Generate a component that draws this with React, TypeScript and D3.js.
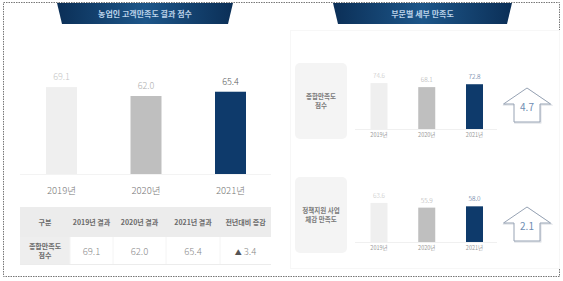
import React from "react";
import * as d3 from "d3";

const years = ["2019년", "2020년", "2021년"];
const overallValues = [69.1, 62.0, 65.4];
const overallChange = 3.4;
const tableHeaders = ["구분", "2019년 결과", "2020년 결과", "2021년 결과", "전년대비 증감"];
const rowLabel = ["종합만족도", "점수"];
const leftTitle = "농업인 고객만족도 결과 점수";
const rightTitle = "부문별 세부 만족도";
const subLabels = [["종합만족도", "점수"], ["정책지원 사업", "체감 만족도"]];
const subValues = [
  [74.6, 68.1, 72.8],
  [63.6, 55.9, 58.0],
];
const subChanges = [4.7, 2.1];

const barFills = ["#efefef", "#bfbfbf", "#0e3a6b"];
const labelFills = ["#c4c4c4", "#adadad", "#5a5a5a"];
const subLabelFills = ["#c4c4c4", "#adadad", "#4a6690"];
const FONT = "'Noto Sans CJK KR', 'Noto Sans', sans-serif";

function Banner({ x0, x1, title }: { x0: number; x1: number; title: string }) {
  const id = `g${Math.round(x0)}`;
  return (
    <g>
      <defs>
        <linearGradient id={id} x1="0" x2="1" y1="0" y2="0">
          <stop offset="0" stopColor="#0b2f57" />
          <stop offset="0.5" stopColor="#1d5689" />
          <stop offset="1" stopColor="#0b2f57" />
        </linearGradient>
      </defs>
      <path d={`M${x0},3 L${x1},3 L${x1 - 5},24 L${x0 + 5},24 Z`} fill={`url(#${id})`} />
      <text x={(x0 + x1) / 2} y={16.5} textAnchor="middle" fontSize={8} fontWeight={700} fill="#bcd3ea" fontFamily={FONT}>
        {title}
      </text>
    </g>
  );
}

function Arrow({ cx, top, value }: { cx: number; top: number; value: number }) {
  const hw = 23.5, sw = 13, headH = 16, total = 34;
  const d = `M${cx},${top} L${cx + hw},${top + headH} L${cx + sw},${top + headH} L${cx + sw},${top + total} L${cx - sw},${top + total} L${cx - sw},${top + headH} L${cx - hw},${top + headH} Z`;
  return (
    <g>
      <path d={d} transform="translate(0.8,1)" fill="none" stroke="#d6dae0" strokeWidth={1.2} />
      <path d={d} fill="#fff" stroke="#97a3b4" strokeWidth={1} />
      <text x={cx} y={top + 23} textAnchor="middle" fontSize={10} fill="#6f8db3" fontFamily={FONT}>
        {value.toFixed(1)}
      </text>
    </g>
  );
}

export default function App() {
  const baseL = 174;
  const yL = d3.scaleLinear().domain([0, 100]).range([baseL, baseL - 125.8]);
  const xL = d3.scalePoint<string>().domain(years).range([61.5, 230.5]);
  const bwL = 31;

  const xR = d3.scalePoint<string>().domain(years).range([379, 474.5]);
  const hR = d3.scaleLinear().domain([0, 100]).range([0, 61.5]);
  const bwR = 17;
  const baseR = [129, 242];
  const arrowTop = [88, 207];
  const boxY = [63, 177];

  const colX = [20, 70, 113, 166, 220, 271];
  const fmt = d3.format(".1f");

  return (
    <svg width={563} height={281} style={{ position: "absolute", left: 0, top: 0 }} fontFamily={FONT}>
      <rect x={0} y={0} width={563} height={281} fill="#fff" />
      <rect x={3.5} y={2.5} width={556} height={274} fill="none" stroke="#777" strokeDasharray="1.5,1" strokeWidth={1} />

      <Banner x0={57} x1={233} title={leftTitle} />
      <Banner x0={333} x1={512} title={rightTitle} />

      {/* Left chart */}
      <line x1={20} x2={271} y1={baseL + 0.5} y2={baseL + 0.5} stroke="#f3f3f3" />
      {years.map((yr, i) => (
        <g key={yr}>
          <rect x={xL(yr)! - bwL / 2} y={yL(overallValues[i])} width={bwL} height={baseL - yL(overallValues[i])} fill={barFills[i]} />
          <text x={xL(yr)!} y={yL(overallValues[i]) - 7} textAnchor="middle" fontSize={9} fontWeight={300} fill={labelFills[i]}>
            {fmt(overallValues[i])}
          </text>
          <text x={xL(yr)!} y={194} textAnchor="middle" fontSize={9.5} fontWeight={300} fill="#777">
            {yr}
          </text>
        </g>
      ))}

      {/* Table */}
      <rect x={colX[0]} y={207} width={colX[5] - colX[0]} height={30} fill="#ececec" />
      <rect x={colX[0]} y={237} width={colX[1] - colX[0]} height={27} fill="#eeeeee" />
      <line x1={colX[0]} x2={colX[5]} y1={264.5} y2={264.5} stroke="#ececec" />
      {colX.slice(1, 5).map((x) => (
        <line key={x} x1={x} x2={x} y1={237} y2={264} stroke="#f4f4f4" />
      ))}
      {tableHeaders.map((h, i) => (
        <text key={h} x={(colX[i] + colX[i + 1]) / 2} y={225} textAnchor="middle" fontSize={7} fontWeight={700} fill="#6a6a6a">
          {h}
        </text>
      ))}
      {rowLabel.map((t, j) => (
        <text key={t} x={(colX[0] + colX[1]) / 2} y={249 + j * 9} textAnchor="middle" fontSize={7} fontWeight={700} fill="#6a6a6a">
          {t}
        </text>
      ))}
      {overallValues.map((v, i) => (
        <text key={i} x={(colX[i + 1] + colX[i + 2]) / 2} y={255} textAnchor="middle" fontSize={9.5} fontWeight={300} fill="#8a8a8a">
          {fmt(v)}
        </text>
      ))}
      <text x={(colX[4] + colX[5]) / 2} y={255} textAnchor="middle" fontSize={9.5} fontWeight={300} fill="#8a8a8a">
        <tspan fontSize={7} fill="#555">▲</tspan> {fmt(overallChange)}
      </text>

      {/* Right card */}
      <rect x={290.5} y={30.5} width={269} height={238} fill="none" stroke="#f7f7f7" />
      {subValues.map((vals, k) => (
        <g key={k}>
          <rect x={295} y={boxY[k]} width={52} height={76} rx={5} fill="#f4f4f4" />
          {subLabels[k].map((t, j) => (
            <text key={t} x={321} y={boxY[k] + 36 + j * 9} textAnchor="middle" fontSize={6.5} fontWeight={700} fill="#7a7a7a">
              {t}
            </text>
          ))}
          <line x1={355} x2={497} y1={baseR[k] + 0.5} y2={baseR[k] + 0.5} stroke="#f0f0f0" />
          {years.map((yr, i) => (
            <g key={yr}>
              <rect x={xR(yr)! - bwR / 2} y={baseR[k] - hR(vals[i])} width={bwR} height={hR(vals[i])} fill={barFills[i]} />
              <text x={xR(yr)!} y={baseR[k] - hR(vals[i]) - 5} textAnchor="middle" fontSize={6.5} fontWeight={300} fill={subLabelFills[i]}>
                {fmt(vals[i])}
              </text>
              <text x={xR(yr)!} y={baseR[k] + 8} textAnchor="middle" fontSize={5.5} fill="#9a9a9a">
                {yr}
              </text>
            </g>
          ))}
          <Arrow cx={527} top={arrowTop[k]} value={subChanges[k]} />
        </g>
      ))}
    </svg>
  );
}
